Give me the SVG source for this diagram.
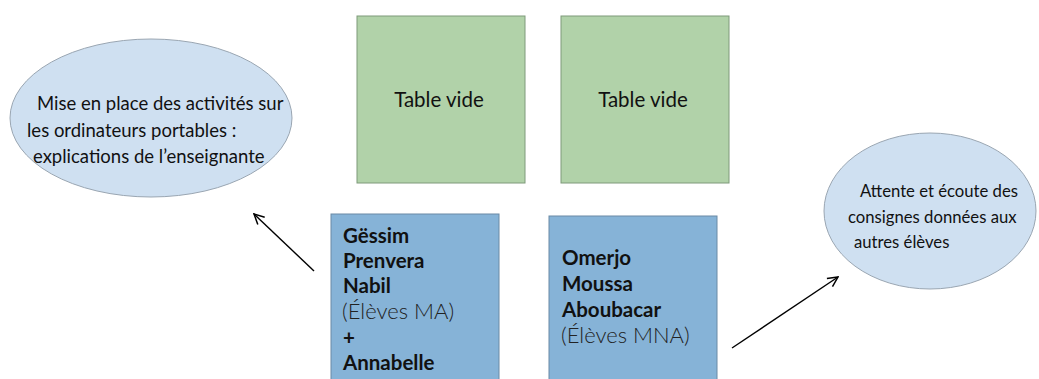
<svg xmlns="http://www.w3.org/2000/svg" width="1039" height="379" viewBox="0 0 1039 379">
<defs>
<style>
.ell{fill:#cfe0f1;stroke:#9aa6b2;stroke-width:1}
.green{fill:#b1d2a9;stroke:#7e9a7a;stroke-width:1}
.blue{fill:#86b3d7;stroke:#6a8aa5;stroke-width:1}
.t{font-family:Lato,"Open Sans","Liberation Sans",sans-serif;fill:#111}
.sl{font-size:18.5px}
.sr{font-size:16.7px}
.m{font-size:20.5px}
.b{font-size:20.5px;font-weight:bold}
.p{font-size:22px;font-weight:300;fill:#222}
.arr{stroke:#000;stroke-width:1.4;fill:none;marker-end:url(#ah)}
</style>
<marker id="ah" viewBox="0 0 12 12" refX="11" refY="6" markerWidth="12" markerHeight="12" markerUnits="userSpaceOnUse" orient="auto">
<path d="M1,1 L11,6 L1,11" fill="none" stroke="#000" stroke-width="1.5"/>
</marker>
</defs>
<rect width="1039" height="379" fill="#fff"/>
<g id="ellipse-left">
<ellipse class="ell" cx="151" cy="118" rx="141" ry="79"/>
<text class="t sl"><tspan x="37" y="110">Mise en place des activités sur</tspan><tspan x="27" y="137">les ordinateurs portables :</tspan><tspan x="33" y="163">explications de l’enseignante</tspan></text>
</g>
<g id="table1">
<rect class="green" x="357" y="16" width="168" height="167"/>
<text class="t m" x="439" y="107" text-anchor="middle">Table vide</text>
</g>
<g id="table2">
<rect class="green" x="561" y="16" width="168" height="167"/>
<text class="t m" x="643" y="107" text-anchor="middle">Table vide</text>
</g>
<g id="group-ma">
<rect class="blue" x="331" y="214" width="168" height="170"/>
<text class="t b"><tspan x="343" y="243">Gëssim</tspan><tspan x="343" y="268">Prenvera</tspan><tspan x="343" y="293">Nabil</tspan></text>
<text class="t p" x="342" y="319">(Élèves MA)</text>
<text class="t b"><tspan x="343" y="345">+</tspan><tspan x="343" y="370">Annabelle</tspan></text>
</g>
<g id="group-mna">
<rect class="blue" x="549" y="216" width="168" height="168"/>
<text class="t b"><tspan x="562" y="265">Omerjo</tspan><tspan x="562" y="291">Moussa</tspan><tspan x="562" y="317">Aboubacar</tspan></text>
<text class="t p" x="561" y="343">(Élèves MNA)</text>
</g>
<g id="ellipse-right">
<ellipse class="ell" cx="930" cy="211" rx="106" ry="78"/>
<text class="t sr"><tspan x="860" y="197">Attente et écoute des</tspan><tspan x="848" y="223">consignes données aux</tspan><tspan x="854" y="248">autres élèves</tspan></text>
</g>
<g id="connectors">
<line class="arr" x1="314" y1="271" x2="254" y2="214"/>
<line class="arr" x1="732" y1="348" x2="838" y2="277"/>
</g>
</svg>
